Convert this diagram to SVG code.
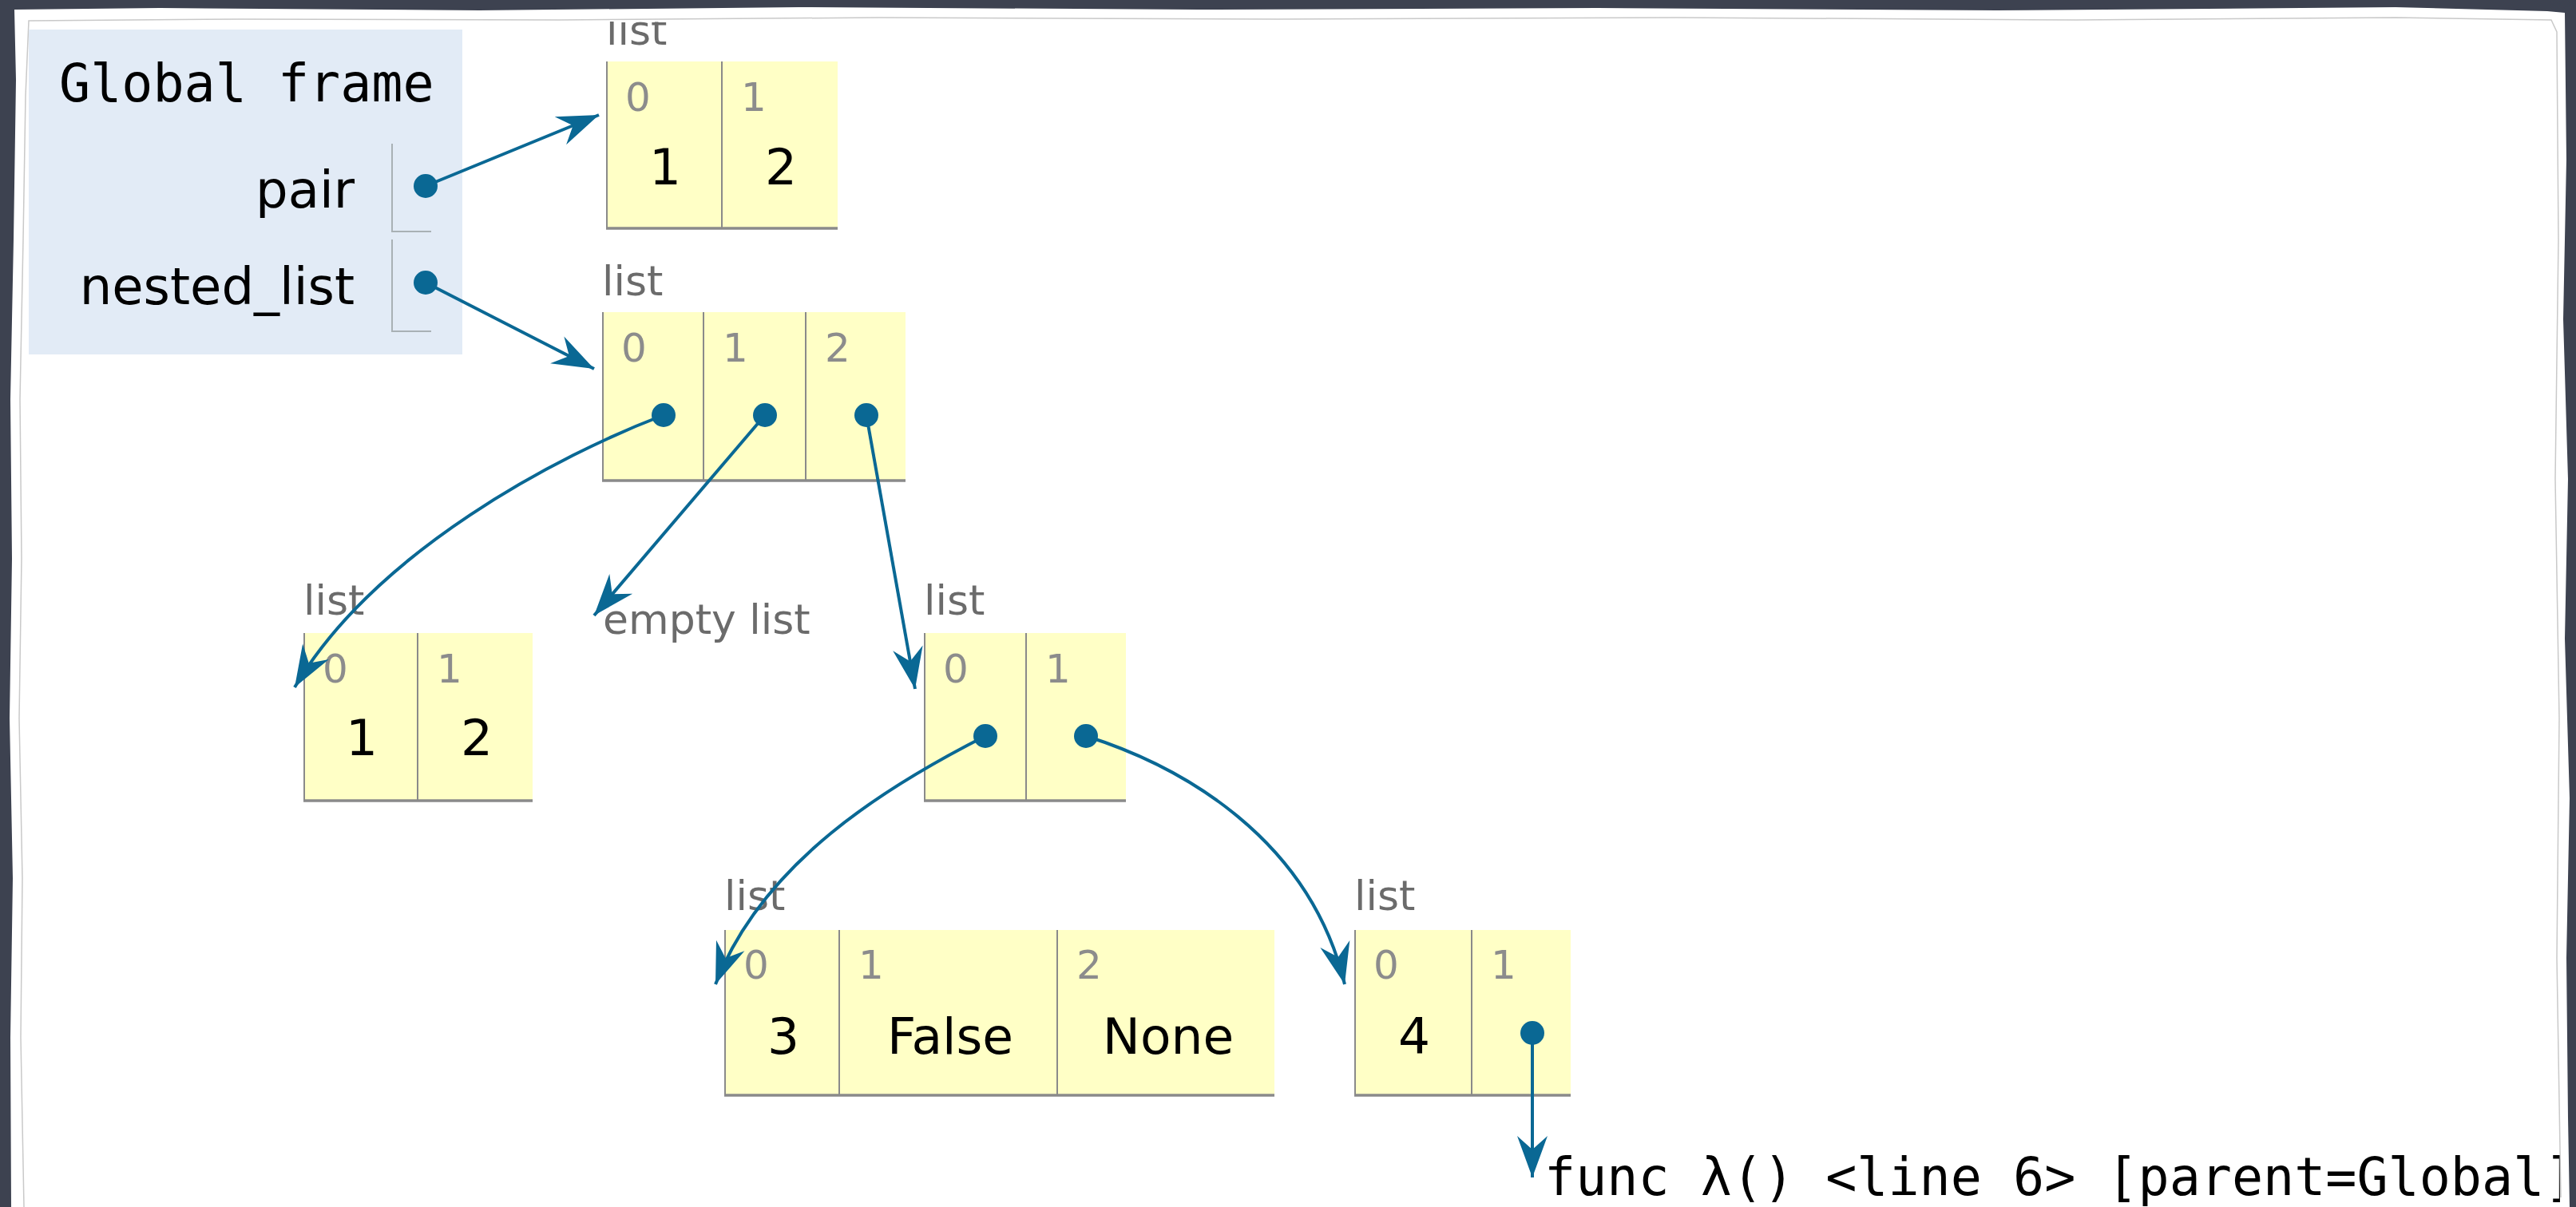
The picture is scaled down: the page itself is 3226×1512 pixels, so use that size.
<svg xmlns="http://www.w3.org/2000/svg" width="3226" height="1512" viewBox="0 0 3226 1512">
<style>
 .lbl{font-family:"DejaVu Sans",Verdana,sans-serif;font-size:52px;fill:#6b6b6b}
 .idx{font-family:"DejaVu Sans",Verdana,sans-serif;font-size:50px;fill:#8c8c8c}
 .val{font-family:"DejaVu Sans",Verdana,sans-serif;font-size:63px;fill:#000;text-anchor:middle}
 .var{font-family:"DejaVu Sans",Verdana,sans-serif;font-size:64px;fill:#000;text-anchor:end}
 .mono{font-family:"DejaVu Sans Mono","Liberation Mono",monospace;font-size:65px;fill:#000}
 .cell{fill:#ffffc6}
 .div{stroke:#8a8a8a;stroke-width:2;fill:none}
 .bot{stroke:#8a8a8a;stroke-width:3.5;fill:none}
 .brk{stroke:#a9b1b5;stroke-width:2;fill:none}
 .ptr{fill:none;stroke:#0a6894;stroke-width:4;marker-end:url(#ah)}
 .dot{fill:#0a6894}
</style>
<defs>
 <marker id="ah" markerUnits="userSpaceOnUse" viewBox="-54 -22 56 44" markerWidth="56" markerHeight="44" refX="0" refY="0" orient="auto">
  <path d="M0,0 L-52,-19 L-35,0 L-52,19 Z" fill="#0a6894"/>
 </marker>
 <clipPath id="paperClip">
  <path d="M26,24 L600,26 L900,28 L1400,25 L2200,26 L3000,24 L3203,26 L3205,600 L3203,1100 L3206,1512 L22,1512 L24,1000 L21,500 L26,24 Z"/>
 </clipPath>
</defs>

<g id="background">
 <rect x="0" y="0" width="3226" height="1512" fill="#3d4250"/>
 <path d="M18,12 L200,10 L600,13 L1000,9 L1500,12 L2000,10 L2500,13 L3000,9 L3190,14 L3212,16 L3214,200 L3210,400 L3216,600 L3212,800 L3218,1000 L3214,1200 L3216,1400 L3218,1512 L14,1512 L13,1300 L16,1100 L12,900 L15,700 L13,500 L17,300 L20,100 Z" fill="#ffffff"/>
 <path d="M30,1512 L26,1300 L28,1100 L24,900 L27,700 L25,500 L29,300 L32,120 L36,26 L300,24 L700,25 L1100,22 L1600,24 L2100,22 L2600,25 L3000,22 L3195,25 L3202,40 L3204,300 L3200,600 L3205,900 L3202,1200 L3207,1500" fill="none" stroke="#c9c9c9" stroke-width="1.5"/>
</g>

<g clip-path="url(#paperClip)">
<g id="global-frame">
 <rect x="36" y="37" width="543" height="407" fill="#e2ebf6"/>
 <text class="mono" x="74" y="127">Global frame</text>
 <text class="var" x="444" y="260">pair</text>
 <path class="brk" d="M491,180 V290 H540"/>
 <text class="var" x="444" y="381">nested_list</text>
 <path class="brk" d="M491,300 V415 H540"/>
</g>

<g id="list-pair">
 <text class="lbl" x="759" y="56">list</text>
 <rect class="cell" x="759" y="77" width="290" height="210"/>
 <path class="div" d="M760,77 V287 M904,77 V287"/>
 <path class="bot" d="M759,286 H1049"/>
 <text class="idx" x="783" y="139">0</text>
 <text class="idx" x="928" y="139">1</text>
 <text class="val" x="833" y="231">1</text>
 <text class="val" x="978" y="231">2</text>
</g>

<g id="list-nested">
 <text class="lbl" x="754" y="370">list</text>
 <rect class="cell" x="754" y="391" width="380" height="212"/>
 <path class="div" d="M755,391 V603 M881,391 V603 M1009,391 V603"/>
 <path class="bot" d="M754,602 H1134"/>
 <text class="idx" x="778" y="453">0</text>
 <text class="idx" x="905" y="453">1</text>
 <text class="idx" x="1033" y="453">2</text>
</g>

<g id="list-1-2">
 <text class="lbl" x="380" y="770">list</text>
 <rect class="cell" x="380" y="793" width="287" height="211"/>
 <path class="div" d="M381,793 V1004 M523,793 V1004"/>
 <path class="bot" d="M380,1003 H667"/>
 <text class="idx" x="404" y="855">0</text>
 <text class="idx" x="547" y="855">1</text>
 <text class="val" x="453" y="946">1</text>
 <text class="val" x="597" y="946">2</text>
</g>

<g id="empty-list">
 <text class="lbl" x="755" y="794">empty list</text>
</g>

<g id="list-inner">
 <text class="lbl" x="1157" y="770">list</text>
 <rect class="cell" x="1157" y="793" width="253" height="211"/>
 <path class="div" d="M1158,793 V1004 M1285,793 V1004"/>
 <path class="bot" d="M1157,1003 H1410"/>
 <text class="idx" x="1181" y="855">0</text>
 <text class="idx" x="1309" y="855">1</text>
</g>

<g id="list-3-false-none">
 <text class="lbl" x="907" y="1140">list</text>
 <rect class="cell" x="907" y="1165" width="689" height="208"/>
 <path class="div" d="M908,1165 V1373 M1051,1165 V1373 M1324,1165 V1373"/>
 <path class="bot" d="M907,1372 H1596"/>
 <text class="idx" x="931" y="1226">0</text>
 <text class="idx" x="1075" y="1226">1</text>
 <text class="idx" x="1348" y="1226">2</text>
 <text class="val" x="981" y="1320">3</text>
 <text class="val" x="1190" y="1320">False</text>
 <text class="val" x="1463" y="1320">None</text>
</g>

<g id="list-4-func">
 <text class="lbl" x="1696" y="1140">list</text>
 <rect class="cell" x="1696" y="1165" width="271" height="208"/>
 <path class="div" d="M1697,1165 V1373 M1843,1165 V1373"/>
 <path class="bot" d="M1696,1372 H1967"/>
 <text class="idx" x="1720" y="1226">0</text>
 <text class="idx" x="1867" y="1226">1</text>
 <text class="val" x="1771" y="1320">4</text>
</g>

<g id="func-lambda">
 <text class="mono" x="1934" y="1497">func λ() &lt;line 6&gt; [parent=Global]</text>
</g>

<g id="connectors">
 <path class="ptr" d="M533,233 L750,144"/>
 <path class="ptr" d="M533,354 L744,462"/>
 <path class="ptr" d="M831,520 C700,570 470,690 369,861"/>
 <path class="ptr" d="M958,520 L744,771"/>
 <path class="ptr" d="M1085,520 L1146,863"/>
 <path class="ptr" d="M1234,922 C1110,985 955,1080 896,1233"/>
 <path class="ptr" d="M1360,922 C1480,960 1640,1050 1684,1233"/>
 <path class="ptr" d="M1919,1294 L1919,1475"/>
 <circle class="dot" cx="533" cy="233" r="15"/>
 <circle class="dot" cx="533" cy="354" r="15"/>
 <circle class="dot" cx="831" cy="520" r="15"/>
 <circle class="dot" cx="958" cy="520" r="15"/>
 <circle class="dot" cx="1085" cy="520" r="15"/>
 <circle class="dot" cx="1234" cy="922" r="15"/>
 <circle class="dot" cx="1360" cy="922" r="15"/>
 <circle class="dot" cx="1919" cy="1294" r="15"/>
</g>
</g>
</svg>
